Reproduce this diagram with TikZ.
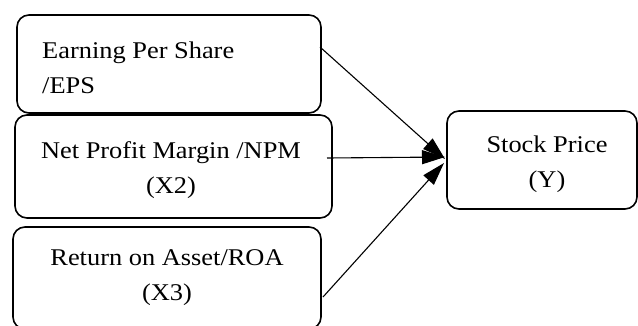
\documentclass[tikz,border=0pt]{standalone}
\usepackage{fontspec}
\setmainfont{Liberation Serif}[FakeStretch=1.1]
\usetikzlibrary{arrows.meta}
\begin{document}
\begin{tikzpicture}[x=1pt,y=-1pt,
  box/.style={draw, rounded corners=12pt, line width=1.6pt, inner sep=0pt},
  lbl/.style={font=\fontsize{24}{35}\selectfont, inner sep=0pt},
  arr/.style={-{Triangle[length=23pt,width=14pt]}, line width=1.1pt}]
\useasboundingbox (0,0) rectangle (638,325);
\node[box, minimum width=304pt, minimum height=98pt]  (b1) at (169,64) {};
\node[box, minimum width=317pt, minimum height=103pt] (b2) at (173.5,166.5) {};
\node[box, minimum width=308pt, minimum height=102pt] (b3) at (167,278) {};
\node[box, minimum width=190pt, minimum height=98pt]  (bY) at (542,160) {};
\node[lbl, align=left, anchor=north west] (t1) at (42,41.5) {Earning Per Share\\/EPS};
\node[lbl, align=center, anchor=north] (t2) at (171,141) {Net Profit Margin /NPM\\(X2)};
\node[lbl, align=center, anchor=north] (t3) at (167,249) {Return on Asset/ROA\\(X3)};
\node[lbl, align=center, anchor=north] (tY) at (547,136) {Stock Price\\(Y)};
\coordinate (s1) at (320,47);
\coordinate (s2) at (327,158);
\coordinate (s3) at (323,297);
\coordinate (e1) at (445,159);
\coordinate (e2) at (445,157);
\coordinate (e3) at (444,163);
\draw[arr] (s1) -- (e1);
\draw[arr] (s2) -- (e2);
\draw[arr] (s3) -- (e3);
\end{tikzpicture}
\end{document}
